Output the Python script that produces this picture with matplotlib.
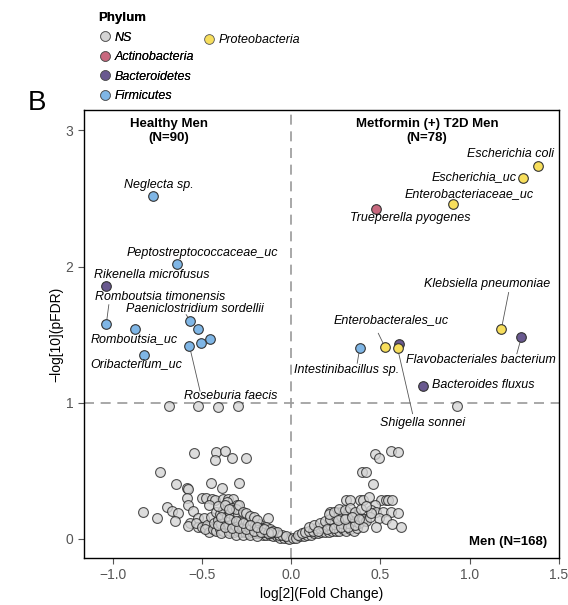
import numpy as np
import matplotlib
matplotlib.use("Agg")
import matplotlib.pyplot as plt
from matplotlib.lines import Line2D

plt.rcParams['font.family'] = ['Liberation Sans', 'DejaVu Sans']

# significant taxa
taxa = ["Neglecta sp.", "Peptostreptococcaceae_uc", "Rikenella microfusus",
        "Romboutsia timonensis", "Romboutsia_uc", "Oribacterium_uc",
        "Paeniclostridium sordellii", "Firmicutes_a", "Firmicutes_b", "Firmicutes_c",
        "Roseburia faecis",
        "Escherichia coli", "Escherichia_uc", "Enterobacteriaceae_uc",
        "Trueperella pyogenes", "Klebsiella pneumoniae", "Flavobacteriales bacterium",
        "Enterobacterales_uc", "Bacteroidetes_a", "Shigella sonnei",
        "Intestinibacillus sp.", "Bacteroides fluxus"]
sig_lfc = [-0.771, -0.641, -1.039, -1.035, -0.873, -0.825, -0.564, -0.519, -0.456, -0.503,
           -0.570, 1.380, 1.298, 0.907, 0.477, 1.177, 1.289, 0.525, 0.603, 0.596,
           0.384, 0.737]
sig_logp = [2.52, 2.02, 1.86, 1.58, 1.54, 1.35, 1.60, 1.54, 1.47, 1.44,
            1.42, 2.74, 2.65, 2.46, 2.42, 1.54, 1.48, 1.41, 1.43, 1.40,
            1.40, 1.125]
sig_phylum = ["Firmicutes", "Firmicutes", "Bacteroidetes", "Firmicutes", "Firmicutes",
              "Firmicutes", "Firmicutes", "Firmicutes", "Firmicutes", "Firmicutes",
              "Firmicutes", "Proteobacteria", "Proteobacteria", "Proteobacteria",
              "Actinobacteria", "Proteobacteria", "Bacteroidetes", "Proteobacteria",
              "Bacteroidetes", "Proteobacteria", "Firmicutes", "Bacteroidetes"]

# non significant taxa, healthy side
ns_left = [(-0.682, 0.973), (-0.519, 0.978), (-0.410, 0.966), (-0.295, 0.973),
           (-0.546, 0.632), (-0.421, 0.642), (-0.369, 0.647), (-0.428, 0.583), (-0.333, 0.593),
           (-0.253, 0.593), (-0.732, 0.493), (-0.646, 0.404), (-0.583, 0.377), (-0.578, 0.370),
           (-0.447, 0.409), (-0.385, 0.372), (-0.292, 0.409), (-0.583, 0.304), (-0.501, 0.300),
           (-0.477, 0.300), (-0.445, 0.290), (-0.428, 0.285), (-0.380, 0.290), (-0.352, 0.290),
           (-0.324, 0.290), (-0.358, 0.270), (-0.577, 0.248), (-0.458, 0.250), (-0.303, 0.250),
           (-0.831, 0.199), (-0.694, 0.233), (-0.667, 0.206), (-0.633, 0.189), (-0.749, 0.154),
           (-0.648, 0.135), (-0.549, 0.204), (-0.520, 0.154), (-0.486, 0.154), (-0.568, 0.115),
           (-0.577, 0.096), (-0.520, 0.086), (-0.477, 0.090), (-0.440, 0.080), (-0.434, 0.066),
           (-0.132, 0.154), (-0.53, 0.12), (-0.50, 0.09), (-0.47, 0.10), (-0.45, 0.16),
           (-0.46, 0.05), (-0.48, 0.07),
           (-0.44, 0.07), (-0.42, 0.06), (-0.40, 0.07), (-0.38, 0.06), (-0.36, 0.07), (-0.34, 0.06),
           (-0.32, 0.05), (-0.30, 0.06), (-0.28, 0.05), (-0.26, 0.05), (-0.24, 0.04), (-0.22, 0.05),
           (-0.20, 0.04), (-0.18, 0.04), (-0.16, 0.03), (-0.14, 0.03), (-0.12, 0.03), (-0.10, 0.02),
           (-0.08, 0.02), (-0.06, 0.01), (-0.04, 0.01), (-0.02, 0.005), (-0.01, 0.0),
           (-0.43, 0.12), (-0.41, 0.14), (-0.39, 0.11), (-0.37, 0.13), (-0.35, 0.10), (-0.33, 0.12),
           (-0.31, 0.09), (-0.29, 0.11), (-0.27, 0.08), (-0.25, 0.09), (-0.23, 0.07), (-0.21, 0.08),
           (-0.19, 0.06), (-0.17, 0.07), (-0.15, 0.05), (-0.13, 0.06), (-0.11, 0.04), (-0.09, 0.05),
           (-0.07, 0.03), (-0.05, 0.03), (-0.03, 0.02),
           (-0.42, 0.20), (-0.40, 0.18), (-0.38, 0.21), (-0.36, 0.17), (-0.34, 0.19), (-0.32, 0.16),
           (-0.30, 0.18), (-0.28, 0.14), (-0.26, 0.15), (-0.24, 0.12), (-0.22, 0.13), (-0.20, 0.10),
           (-0.18, 0.11), (-0.16, 0.08), (-0.14, 0.09), (-0.12, 0.07), (-0.10, 0.06), (-0.08, 0.05),
           (-0.41, 0.24), (-0.37, 0.25), (-0.33, 0.23), (-0.31, 0.22), (-0.29, 0.25), (-0.27, 0.20),
           (-0.35, 0.22), (-0.25, 0.19), (-0.23, 0.17), (-0.21, 0.16), (-0.19, 0.14),
           (-0.39, 0.04), (-0.35, 0.04), (-0.31, 0.03), (-0.27, 0.03), (-0.23, 0.03), (-0.19, 0.02),
           (-0.41, 0.10), (-0.37, 0.09), (-0.33, 0.08), (-0.29, 0.08), (-0.25, 0.07), (-0.21, 0.06),
           (-0.17, 0.05), (-0.13, 0.04), (-0.39, 0.16), (-0.35, 0.15), (-0.31, 0.13), (-0.27, 0.12),
           (-0.23, 0.10), (-0.19, 0.09), (-0.15, 0.07), (-0.11, 0.05)]

# non significant taxa, metformin side
ns_right = [(0.929, 0.973), (0.469, 0.623), (0.492, 0.593), (0.557, 0.647), (0.600, 0.642),
            (0.398, 0.488), (0.417, 0.495), (0.460, 0.404), (0.305, 0.289), (0.328, 0.289),
            (0.385, 0.289), (0.402, 0.289), (0.436, 0.307), (0.501, 0.289), (0.529, 0.289),
            (0.544, 0.289), (0.566, 0.289), (0.469, 0.250), (0.218, 0.196), (0.250, 0.196),
            (0.281, 0.196), (0.315, 0.196), (0.445, 0.213), (0.477, 0.196), (0.516, 0.196),
            (0.557, 0.196), (0.600, 0.190), (0.492, 0.152), (0.532, 0.147), (0.566, 0.110),
            (0.616, 0.086), (0.477, 0.090), (0.417, 0.145),
            (0.01, 0.005), (0.03, 0.01), (0.05, 0.02), (0.07, 0.02), (0.09, 0.03), (0.11, 0.03),
            (0.13, 0.04), (0.15, 0.04), (0.17, 0.05), (0.19, 0.05), (0.21, 0.05), (0.23, 0.06),
            (0.25, 0.06), (0.27, 0.06), (0.29, 0.07), (0.31, 0.06), (0.33, 0.07), (0.35, 0.06),
            (0.37, 0.08),
            (0.04, 0.03), (0.06, 0.04), (0.08, 0.05), (0.10, 0.06), (0.12, 0.06), (0.14, 0.08),
            (0.16, 0.08), (0.18, 0.09), (0.20, 0.10), (0.22, 0.10), (0.24, 0.11), (0.26, 0.12),
            (0.28, 0.12), (0.30, 0.13), (0.32, 0.12), (0.34, 0.14), (0.36, 0.13), (0.38, 0.12),
            (0.10, 0.09), (0.13, 0.10), (0.16, 0.12), (0.19, 0.13), (0.22, 0.15), (0.25, 0.16),
            (0.28, 0.17), (0.31, 0.16), (0.34, 0.18), (0.37, 0.17), (0.40, 0.15), (0.42, 0.13),
            (0.44, 0.16), (0.21, 0.18), (0.24, 0.20), (0.27, 0.22), (0.30, 0.21), (0.33, 0.23),
            (0.36, 0.20), (0.39, 0.22), (0.45, 0.19), (0.42, 0.24),
            (0.20, 0.07), (0.24, 0.08), (0.28, 0.09), (0.32, 0.09), (0.36, 0.10), (0.40, 0.09),
            (0.15, 0.06), (0.26, 0.14), (0.30, 0.15), (0.34, 0.16), (0.38, 0.15)]

phylum_names = ["NS", "Actinobacteria", "Bacteroidetes", "Firmicutes", "Proteobacteria"]
colors = {"NS": "#d4d4d4", "Actinobacteria": "#c8687e", "Bacteroidetes": "#69598f",
          "Firmicutes": "#7fb6e6", "Proteobacteria": "#f7de5c"}

# label placement: text x, text y, and optional leader end (x, y)
label_pos = {
    "Neglecta sp.": (-0.741, 2.60, None),
    "Peptostreptococcaceae_uc": (-0.497, 2.10, None),
    "Rikenella microfusus": (-0.78, 1.94, None),
    "Romboutsia timonensis": (-0.732, 1.775, (-1.021, 1.72)),
    "Paeniclostridium sordellii": (-0.537, 1.69, (-0.588, 1.647)),
    "Romboutsia_uc": (-0.877, 1.47, None),
    "Oribacterium_uc": (-0.87, 1.285, None),
    "Roseburia faecis": (-0.341, 1.05, (-0.51, 1.085)),
    "Escherichia coli": (1.227, 2.83, None),
    "Escherichia_uc": (1.027, 2.66, None),
    "Enterobacteriaceae_uc": (0.998, 2.53, None),
    "Trueperella pyogenes": (0.669, 2.36, None),
    "Klebsiella pneumoniae": (1.099, 1.87, (1.218, 1.81)),
    "Enterobacterales_uc": (0.5625, 1.61, (0.488, 1.51)),
    "Flavobacteriales bacterium": (1.06, 1.316, (1.264, 1.36)),
    "Intestinibacillus sp.": (0.308, 1.243, (0.37, 1.29)),
    "Bacteroides fluxus": (1.074, 1.13, None),
    "Shigella sonnei": (0.738, 0.855, (0.68, 0.92)),
}

fig = plt.figure(figsize=(5.68, 6.05), dpi=100)
ax = fig.add_axes([84 / 568, 1 - 558 / 605, 475 / 568, 448 / 605])

ax.axvline(0, color="#9a9a9a", lw=1.2, ls=(0, (6, 4)), zorder=1)
ax.axhline(1, color="#9a9a9a", lw=1.2, ls=(0, (6, 4)), zorder=1)

ns = np.array(ns_left + ns_right)
ax.scatter(ns[:, 0], ns[:, 1], s=50, facecolor=colors["NS"], edgecolor="#222222",
           linewidth=0.8, alpha=0.78, zorder=2)

for name, x, y, ph in zip(taxa, sig_lfc, sig_logp, sig_phylum):
    ax.scatter(x, y, s=48, facecolor=colors[ph], edgecolor="#333333", linewidth=0.8, zorder=3)
    if name in label_pos:
        tx, ty, end = label_pos[name]
        ax.text(tx, ty, name, fontsize=9, style="italic", ha="center", va="center", zorder=4)
        if end is not None:
            ax.plot([x, end[0]], [y, end[1]], color="#555555", lw=0.6, zorder=2)

ax.text(-0.685, 2.995, "Healthy Men\n(N=90)", fontsize=9.5, fontweight="bold",
        ha="center", va="center", linespacing=1.2)
ax.text(0.762, 2.995, "Metformin (+) T2D Men\n(N=78)", fontsize=9.5, fontweight="bold",
        ha="center", va="center", linespacing=1.2)
ax.text(1.435, -0.02, "Men (N=168)", fontsize=9.5, fontweight="bold", ha="right", va="center")

ax.set_xlim(-1.16, 1.5)
ax.set_ylim(-0.14, 3.15)
ax.set_xticks([-1.0, -0.5, 0.0, 0.5, 1.0, 1.5])
ax.set_yticks([0, 1, 2, 3])
ax.tick_params(direction="out", length=4, color="#555555", labelcolor="#555555", labelsize=10)
for sp in ax.spines.values():
    sp.set_linewidth(1.0)
ax.set_xlabel("log[2](Fold Change)", fontsize=10, labelpad=3)
ax.set_ylabel("\u2212log[10](pFDR)", fontsize=10, labelpad=2)

fig.text(28 / 568, 1 - 110 / 605, "B", fontsize=20, ha="left", va="baseline")

def handle(ph):
    return Line2D([], [], marker="o", ls="", markersize=7, markerfacecolor=colors[ph],
                  markeredgecolor="#555555", markeredgewidth=0.6)

leg1 = fig.legend([handle(p) for p in phylum_names[:4]], phylum_names[:4], title="Phylum",
                  loc="upper left", bbox_to_anchor=(92 / 568, 1 - 6 / 605), frameon=False,
                  prop={"style": "italic", "size": 9}, labelspacing=0.6, handletextpad=0.3,
                  handlelength=1.0, borderpad=0, alignment="left",
                  title_fontproperties={"weight": "bold", "size": 9.5})
fig.add_artist(leg1)
fig.legend([handle("Proteobacteria")], ["Proteobacteria"], loc="upper left",
           bbox_to_anchor=(196 / 568, 1 - 28 / 605), frameon=False,
           prop={"style": "italic", "size": 9}, handletextpad=0.3, handlelength=1.0, borderpad=0)

fig.savefig("out.png", dpi=100)
